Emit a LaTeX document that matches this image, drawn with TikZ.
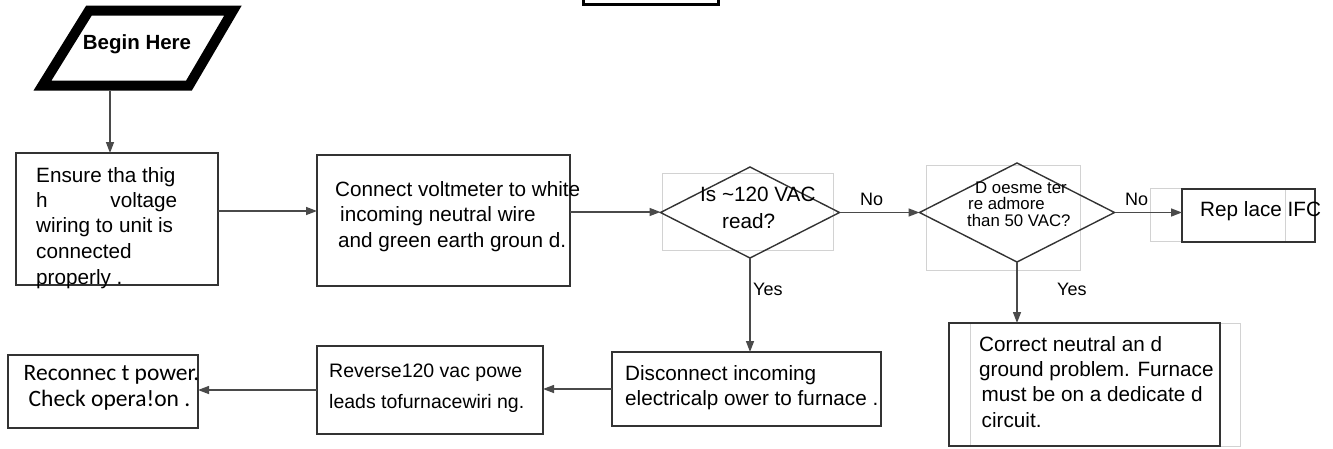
\documentclass[tikz,border=0pt]{standalone}
\usepackage{fontspec}
\setmainfont{Liberation Sans}
\newfontfamily\calfont{Carlito}
\usetikzlibrary{arrows.meta,shapes.geometric}
\definecolor{boxline}{HTML}{333333}
\definecolor{connline}{HTML}{4A4A4A}
\definecolor{faintgray}{HTML}{D2D2D2}
\tikzset{
  box/.style={draw=boxline, line width=1.8pt, rectangle, inner sep=0pt, outer sep=0pt},
  decision/.style={draw=boxline, line width=1.4pt, diamond, inner sep=0pt, outer sep=0pt},
  faint/.style={draw=faintgray, line width=0.9pt},
  arrow/.style={draw=connline, line width=1.4pt, -{Triangle[length=11pt,width=8pt]}},
  txt/.style={anchor=base west, inner sep=0pt, font=\fontsize{20.7}{24}\selectfont},
  smalltxt/.style={anchor=base west, inner sep=0pt, font=\fontsize{16.8}{19}\selectfont},
  revtxt/.style={anchor=base west, inner sep=0pt, font=\fontsize{19.5}{23}\selectfont},
  caltxt/.style={anchor=base west, inner sep=0pt, font=\calfont\fontsize{23.5}{27}\selectfont},
  lbl/.style={anchor=base west, inner sep=0pt, font=\fontsize{18}{21}\selectfont},
}
\begin{document}
\begin{tikzpicture}[x=1pt,y=-1pt]
\useasboundingbox (0,0) rectangle (1333,448);
\begin{scope}
\clip (0,0) rectangle (1333,448);
% cut-off box at the top
\node[draw=black, line width=3pt, rectangle, inner sep=0pt, outer sep=0pt,
      minimum width=135pt, minimum height=30pt] (topbox) at (650.5,-11) {};
\end{scope}

% start parallelogram
\draw[black, line width=10pt, line join=miter] (89,10.5) -- (233,10.5) -- (189,85.5) -- (42.5,85.5) -- cycle;
\node[anchor=base, inner sep=0pt, font=\bfseries\fontsize{20.5}{24}\selectfont] (begin) at (137,49) {Begin Here};
\coordinate (bstart) at (110,91);

% faint background rectangles
\draw[faint] (662,173) rectangle (833,250);
\draw[faint] (926,165) rectangle (1080,270);
\draw[faint] (1150,188) rectangle (1285,241);
\draw[faint] (970,323) rectangle (1240,446);

% boxes
\node[box, minimum width=202pt, minimum height=132pt] (b1) at (117,219) {};
\node[box, minimum width=253pt, minimum height=131pt] (b2) at (443.5,220.5) {};
\node[decision, minimum width=179pt, minimum height=91pt] (d1) at (750,212.5) {};
\node[decision, minimum width=195pt, minimum height=99pt] (d2) at (1017,212.5) {};
\node[box, minimum width=133pt, minimum height=53pt] (rep) at (1248.5,215.5) {};
\node[box, minimum width=269pt, minimum height=74pt] (dis) at (746.5,389) {};
\node[box, minimum width=226pt, minimum height=88pt] (rev) at (430,390) {};
\node[box, minimum width=190pt, minimum height=73pt] (rec) at (103,391.5) {};
\node[box, minimum width=271pt, minimum height=123pt] (cor) at (1084.5,384.5) {};

% texts
\node[txt] (t1a) at (36,182) {Ensure tha thig};
\node[txt] (t1b) at (36,207) {\makebox[141pt][l]{h\hfill voltage}};
\node[txt] (t1c) at (36,232.5) {wiring to unit is};
\node[txt] (t1d) at (36,258) {connected};
\node[txt] (t1e) at (36,284) {properly .};

\node[txt] (t2a) at (335,196) {Connect voltmeter to white};
\node[txt] (t2b) at (340,221.5) {incoming neutral wire};
\node[txt] (t2c) at (338,247) {and green earth groun d.};

\node[txt] (q1a) at (700,201) {Is \textasciitilde120 VAC};
\node[txt] (q1b) at (722,228) {read?};

\node[smalltxt] (q2a) at (975,193) {D oesme ter};
\node[smalltxt] (q2b) at (968,209.5) {re admore};
\node[smalltxt] (q2c) at (967,226) {than 50 VAC?};

\node[txt] (trep) at (1200,216) {Rep lace IFC};

\node[txt] (tda) at (625,380) {Disconnect incoming};
\node[txt] (tdb) at (625,405) {electricalp ower to furnace .};

\node[revtxt] (tra) at (329,377) {Reverse120 vac powe};
\node[revtxt] (trb) at (329,408) {leads tofurnacewiri ng.};

\node[caltxt] (tca) at (23.5,380.5) {Reconnec t power.};
\node[caltxt] (tcb) at (28.5,406) {Check opera!on .};

\node[txt] (tea) at (979,351) {Correct neutral an d};
\node[txt] (teb) at (979,376.3) {ground problem. Furnace};
\node[txt] (tec) at (981.5,401.6) {must be on a dedicate d};
\node[txt] (ted) at (981.5,427) {circuit.};

% connectors
\coordinate (c1) at ([yshift=8pt]b1.east);
\coordinate (c2) at ([yshift=8.5pt]b2.east);
\draw[arrow] (bstart) -- (bstart |- b1.north);
\draw[arrow] (c1) -- (c1 -| b2.west);
\draw[arrow] (c2) -- (c2 -| d1.west);
\draw[arrow] (d1.east) -- (d2.west);
\draw[arrow] (d2.east) -- (d2.east -| rep.west);
\draw[arrow] (d1.south) -- (d1.south |- dis.north);
\draw[arrow] (d2.south) -- (d2.south |- cor.north);
\draw[arrow] (dis.west) -- (dis.west -| rev.east);
\draw[arrow] (rev.west) -- (rev.west -| rec.east);

% labels
\node[lbl] (no1) at (860,205) {No};
\node[lbl] (yes1) at (753,295) {Yes};
\node[lbl] (no2) at (1125,205) {No};
\node[lbl] (yes2) at (1057,295) {Yes};
\end{tikzpicture}
\end{document}
